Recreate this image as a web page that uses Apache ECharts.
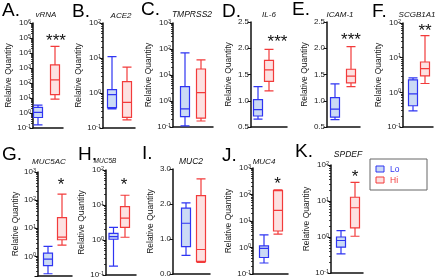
<!DOCTYPE html>
<html>
<head>
<meta charset="utf-8">
<script src="https://cdn.jsdelivr.net/npm/echarts@6/dist/echarts.min.js"></script>
<style>
html, body { margin: 0; padding: 0; background: #fff; }
#chart { width: 440px; height: 280px; }
</style>
</head>
<body>
<div id="chart"></div>
<script>
var genes = ['vRNA', 'ACE2', 'TMPRSS2', 'IL-6', 'ICAM-1', 'SCGB1A1', 'MUC5AC', 'MUC5B', 'MUC2', 'MUC4', 'SPDEF'];
var letters = ['A.', 'B.', 'C.', 'D.', 'E.', 'F.', 'G.', 'H.', 'I.', 'J.', 'K.'];
var groups = ['Lo', 'Hi'];
// [min, Q1, median, Q3, max]
var loBox = [
  [0.16, 0.5, 1.1, 2.4, 3.4],
  [0.35, 0.38, 0.9, 1.25, 11],
  [0.11, 0.25, 0.5, 3.6, 71],
  [0.65, 0.71, 0.83, 1.02, 1.27],
  [0.64, 0.69, 0.84, 1.06, 1.32],
  [0.29, 0.41, 0.9, 2.3, 2.6],
  [0.24, 0.47, 0.8, 1.3, 2.25],
  [0.18, 1.05, 1.25, 1.55, 2.3],
  [0.53, 0.78, 1.45, 1.88, 2.03],
  [0.26, 0.42, 0.93, 1.15, 3.0],
  [0.34, 0.52, 0.8, 1.0, 1.5]
];
var hiBox = [
  [8.5, 17, 160, 1600, 28000],
  [0.17, 0.2, 0.54, 2.1, 5.5],
  [0.17, 0.22, 2.1, 17, 38],
  [1.19, 1.37, 1.59, 1.77, 1.98],
  [1.27, 1.34, 1.47, 1.6, 2.03],
  [1.8, 3.0, 4.8, 7.5, 43],
  [2.5, 3.9, 4.8, 24, 163],
  [1.2, 2.3, 4.2, 9, 19],
  [0.33, 0.36, 0.7, 2.24, 2.72],
  [3.2, 4.2, 25, 140, 150],
  [1.05, 1.8, 6.5, 12.7, 33]
];
var stars = ['***', '', '', '***', '***', '**', '*', '*', '', '*', '*'];
var yType = ['log', 'log', 'log', 'value', 'value', 'log', 'log', 'log', 'value', 'log', 'log'];
var yMin = [0.1, 0.1, 0.1, 0.5, 0.5, 0.1, 0.2, 0.1, 0, 0.1, 0.1];
var yMax = [1e6, 100, 1000, 2.5, 2.5, 100, 1000, 100, 3, 1000, 100];
var yStep = [null, null, null, 0.5, 0.5, null, null, null, 1, null, null];

var LO_LINE = '#2f35f2', LO_FILL = '#cbdaf5', HI_LINE = '#f23b3b', HI_FILL = '#fde1e1';
var FONT = 'Liberation Sans, Arial, sans-serif';

// plot frame per panel: left, right, top, bottom, Lo centre, Hi centre (px)
var frames = [
  [33, 63, 23, 128, 38, 55],
  [103, 135, 23, 128, 112, 127],
  [173, 213, 23, 127, 185, 201],
  [251, 287, 22, 127, 258, 269],
  [327, 360, 22, 127, 335, 351],
  [403, 433, 23, 127, 413, 425],
  [38, 72, 172, 276, 48, 62],
  [106, 136, 170, 275, 113.5, 125],
  [173, 210, 169, 274, 186, 201],
  [253, 288, 168, 274, 264, 278],
  [331, 363, 165, 273, 341, 355]
];
var letterPos = [[2, 11], [72, 11.5], [141, 10], [222, 11.5], [292, 10], [372, 11.5],
  [2, 154.5], [78, 154.5], [142, 154], [222, 156], [295, 151.5]];
var titlePos = [[46, 15, 8], [121, 16, 8], [192, 15, 8.5], [269, 15, 8], [340, 15, 8], [417, 15, 8],
  [49, 161.5, 8], [105, 161.5, 6.5], [191, 161.5, 8.5], [264, 161.5, 8], [348, 155, 8.5]];
var starPos = [[56, 41], null, null, [277.5, 42], [351, 40.5], [425, 31],
  [61, 185.5], [124, 185.5], null, [277.5, 184], [355, 177]];

function logLabel(v) {
  var e = Math.log10(v);
  var r = Math.round(e);
  if (Math.abs(e - r) > 1e-6) return '';
  return '{b|10}{s|' + r + '}';
}
function linLabel(v) {
  return v.toFixed(1);
}

var grid = [], xAxis = [], yAxis = [], series = [], graphic = [];

frames.forEach(function (f, i) {
  var unit = f[5] - f[4];
  var xmin = 1 - (f[4] - f[0]) / unit;
  var isLog = yType[i] === 'log';
  grid.push({
    left: f[0], top: f[2], width: f[1] - f[0], height: f[3] - f[2],
    outerBoundsMode: 'none'
  });
  xAxis.push({
    type: 'value', gridIndex: i, min: xmin, max: xmin + (f[1] - f[0]) / unit,
    axisLine: { onZero: false, lineStyle: { color: '#111', width: 1.5 } },
    axisTick: { show: false },
    axisLabel: { show: false },
    splitLine: { show: false }
  });
  var y = {
    type: yType[i], gridIndex: i, min: yMin[i], max: yMax[i],
    name: 'Relative Quantity', nameLocation: 'middle', nameGap: 18,
    nameTextStyle: { fontSize: 8.5, color: '#222', fontFamily: FONT },
    axisLine: { show: true, onZero: false, lineStyle: { color: '#111', width: 1.5 } },
    axisTick: { show: true, length: 3.5, lineStyle: { color: '#111', width: 1 } },
    minorTick: { show: isLog, splitNumber: 9, length: 2, lineStyle: { color: '#111', width: 0.8 } },
    splitLine: { show: false },
    axisLabel: {
      margin: 2, fontSize: 8, color: '#222', fontFamily: FONT,
      formatter: isLog ? logLabel : linLabel,
      rich: {
        b: { fontSize: 8, lineHeight: 10, color: '#222', fontFamily: FONT },
        s: { fontSize: 5.5, lineHeight: 6, verticalAlign: 'top', color: '#222', fontFamily: FONT }
      }
    }
  };
  if (yStep[i]) y.interval = yStep[i];
  yAxis.push(y);

  series.push({
    type: 'boxplot', xAxisIndex: i, yAxisIndex: i,
    boxWidth: [9, 9], silent: true,
    itemStyle: { borderWidth: 1.2 },
    data: [
      { name: groups[0], value: [1].concat(loBox[i]), itemStyle: { color: LO_FILL, borderColor: LO_LINE } },
      { name: groups[1], value: [2].concat(hiBox[i]), itemStyle: { color: HI_FILL, borderColor: HI_LINE } }
    ]
  });

  graphic.push({
    type: 'text', x: letterPos[i][0], y: letterPos[i][1],
    style: { text: letters[i], fontSize: 19, fontFamily: FONT, fill: '#000', verticalAlign: 'middle' }
  });
  graphic.push({
    type: 'text', x: titlePos[i][0], y: titlePos[i][1],
    style: {
      text: genes[i], fontSize: titlePos[i][2], fontStyle: 'italic', fontFamily: FONT,
      fill: '#111', align: 'center', verticalAlign: 'middle'
    }
  });
  if (stars[i]) {
    graphic.push({
      type: 'text', x: starPos[i][0], y: starPos[i][1],
      style: { text: stars[i], fontSize: 17, fontFamily: FONT, fill: '#111', align: 'center', verticalAlign: 'middle' }
    });
  }
});

// legend box in the empty corner
graphic.push(
  { type: 'rect', shape: { x: 370, y: 159, width: 57, height: 31 }, style: { fill: 'none', stroke: '#666', lineWidth: 1 } },
  { type: 'rect', shape: { x: 376, y: 166, width: 8, height: 6 }, style: { fill: LO_FILL, stroke: LO_LINE, lineWidth: 1 } },
  { type: 'text', x: 390, y: 169.5, style: { text: groups[0], fontSize: 8.5, fontFamily: FONT, fill: LO_LINE, verticalAlign: 'middle' } },
  { type: 'rect', shape: { x: 376, y: 177, width: 8, height: 6 }, style: { fill: HI_FILL, stroke: HI_LINE, lineWidth: 1 } },
  { type: 'text', x: 390, y: 180.5, style: { text: groups[1], fontSize: 8.5, fontFamily: FONT, fill: HI_LINE, verticalAlign: 'middle' } }
);

var chart = echarts.init(document.getElementById('chart'));
chart.setOption({
  animation: false,
  textStyle: { fontFamily: FONT },
  grid: grid,
  xAxis: xAxis,
  yAxis: yAxis,
  series: series,
  graphic: graphic
});
</script>
</body>
</html>
